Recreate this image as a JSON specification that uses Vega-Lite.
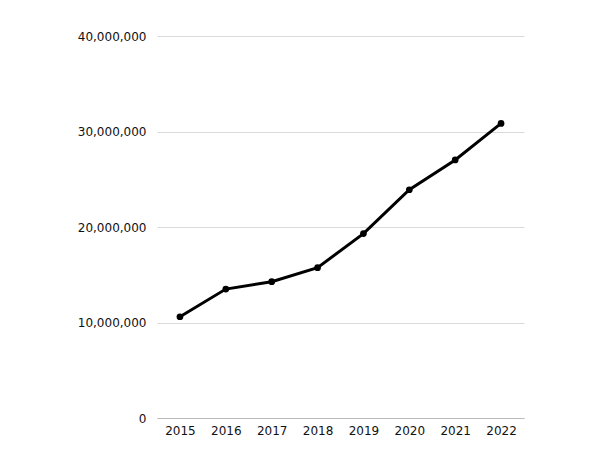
{
  "$schema": "https://vega.github.io/schema/vega-lite/v6.json",
  "width": 367,
  "height": 382,
  "autosize": {"type": "none"},
  "padding": {"left": 157, "top": 36, "right": 80, "bottom": 51},
  "background": "white",
  "config": {"view": {"stroke": null}, "font": "DejaVu Sans"},
  "data": {"values": [
    {"year": "2015", "value": 10600000},
    {"year": "2016", "value": 13500000},
    {"year": "2017", "value": 14270000},
    {"year": "2018", "value": 15740000},
    {"year": "2019", "value": 19310000},
    {"year": "2020", "value": 23900000},
    {"year": "2021", "value": 27020000},
    {"year": "2022", "value": 30850000}
  ]},
  "encoding": {
    "x": {"field": "year", "type": "ordinal", "scale": {"type": "point", "padding": 0.5},
      "axis": {"title": null, "labelAngle": 0, "ticks": false, "domain": true, "domainColor": "#bbbbbb", "labelPadding": 7, "labelFontSize": 12, "labelColor": "#111111", "grid": false}},
    "y": {"field": "value", "type": "quantitative", "scale": {"domain": [0, 40000000]},
      "axis": {"title": null, "values": [0, 10000000, 20000000, 30000000, 40000000], "format": ",d", "ticks": false, "domain": false, "labelPadding": 11, "labelFontSize": 12, "labelColor": "#111111", "gridColor": "#d9d9d9"}}
  },
  "layer": [
    {"mark": {"type": "line", "color": "black", "strokeWidth": 3}},
    {"mark": {"type": "point", "filled": true, "color": "black", "size": 45, "opacity": 1}}
  ]
}
